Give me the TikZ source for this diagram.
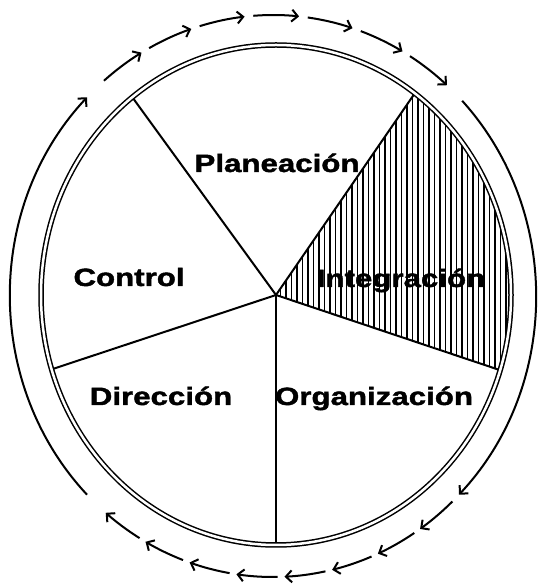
\documentclass[tikz,border=0pt]{standalone}
\usepackage{fontspec}
\setmainfont{Liberation Sans}
\newfontfamily\wordfont[FakeStretch=1.25,FakeBold=1.6]{Liberation Sans}
\usetikzlibrary{calc,arrows.meta,patterns.meta}

\begin{document}
\begin{tikzpicture}[
  x=1pt, y=1pt,
  every node/.style={font=\wordfont\bfseries\fontsize{25}{30}\selectfont, anchor=base, inner sep=0pt},
  spoke/.style={line width=2pt},
  flow/.style={line width=2pt, -{Straight Barb[length=6pt,width=12pt]}}
]
  \useasboundingbox (0,0) rectangle (541,584);

  % centre of the wheel and of the outer cycle
  \coordinate (o) at (276,289);
  \coordinate (oo) at (273,288);

  % ends of the spokes on the rim
  \coordinate (pl) at ($(o)+(127.7:235 and 250)$);
  \coordinate (in) at ($(o)+(53.8:235 and 250)$);
  \coordinate (og) at ($(o)+(-17.5:235 and 250)$);
  \coordinate (bt) at ($(o)+(-90:235 and 250)$);
  \coordinate (di) at ($(o)+(197.3:235 and 250)$);

  % hatched sector
  \fill[pattern={Lines[angle=90, distance=5.5pt, line width=1.9pt]}]
    (o) -- (in) arc[start angle=53.8, end angle=-17.5, x radius=235, y radius=250] -- cycle;

  \draw[spoke] (o) -- (pl);
  \draw[spoke] (o) -- (in);
  \draw[spoke] (o) -- (og);
  \draw[line width=1.3pt] (o) -- (bt);
  \draw[spoke] (o) -- (di);

  % rim
  \draw[line width=1.5pt, double, double distance=2.5pt] (o) ellipse[x radius=235, y radius=250];

  \node (plan) at (277,412) {Planeación};
  \node (ctrl) at (129,298) {Control};
  \node (integ) at (401,297) {Integración};
  \node (dir) at (161,179) {Dirección};
  \node (org) at (374,179) {Organización};

  % outer cycle
  \draw[flow] ($(oo)+(225:263 and 281)$) arc[start angle=225, end angle=135, x radius=263, y radius=281];
  \foreach \s in {130,118.1,106.2,94.3,82.4,70.5,58.6}
    \draw[flow] ($(oo)+(\s:263 and 281)$) arc[start angle=\s, end angle=\s-10, x radius=263, y radius=281];
  \draw[flow] ($(oo)+(44:263 and 281)$) arc[start angle=44, end angle=-45, x radius=263, y radius=281];
  \foreach \s in {-47,-57.5,-68,-78.5,-89,-99.5,-110,-120.5}
    \draw[flow] ($(oo)+(\s:263 and 281)$) arc[start angle=\s, end angle=\s-9, x radius=263, y radius=281];
\end{tikzpicture}
\end{document}
